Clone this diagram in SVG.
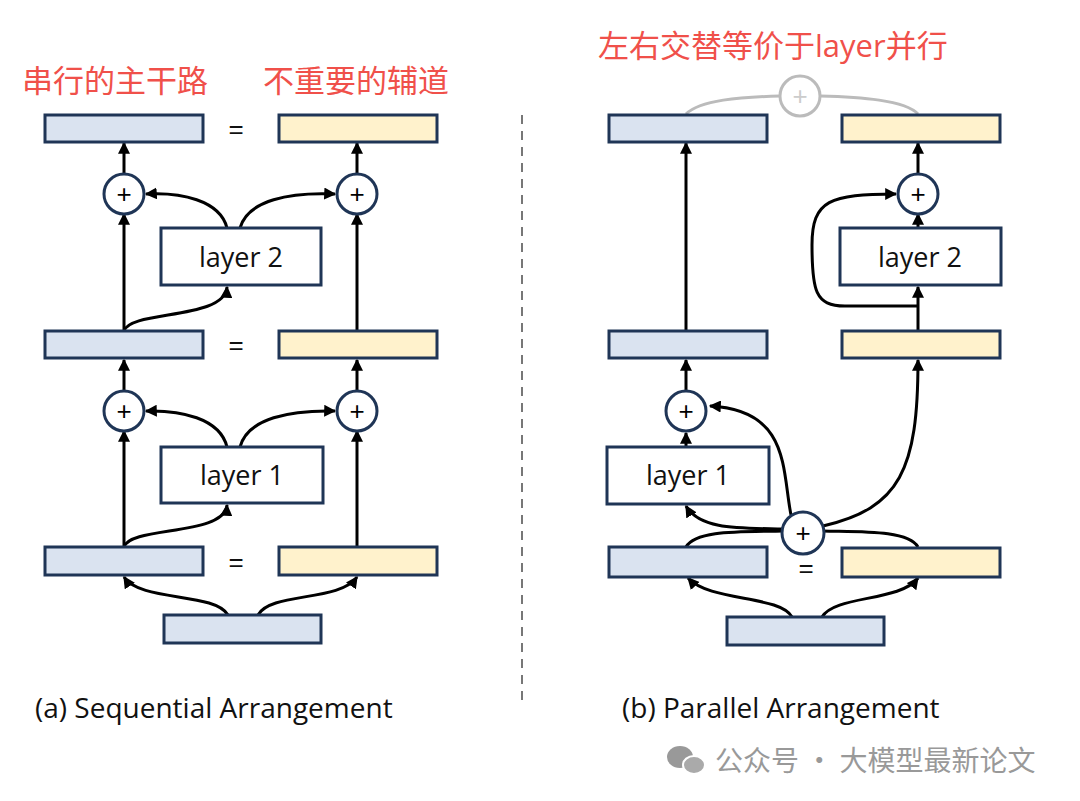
<svg xmlns="http://www.w3.org/2000/svg" width="1080" height="801" viewBox="0 0 1080 801">
<defs>
<marker id="ah" viewBox="0 0 10 10" refX="9" refY="5" markerWidth="4" markerHeight="4" orient="auto"><path d="M0,0L10,5L0,10z" fill="#000"/></marker>
<style>
.b{fill:#dae3f0;stroke:#1f3556;stroke-width:3}
.y{fill:#fff2cc;stroke:#1f3556;stroke-width:3}
.l{fill:#fff;stroke:#1f3556;stroke-width:3}
.p{fill:#fff;stroke:#1f3556;stroke-width:3}
.c{fill:none;stroke:#000;stroke-width:3}
.a{fill:none;stroke:#000;stroke-width:3;marker-end:url(#ah)}
.t{font-family:"Open Sans","Liberation Sans",sans-serif;fill:#111}
.r{font-family:"Noto Sans CJK SC",sans-serif;fill:#f0504a;font-size:31px}
</style>
</defs>
<rect width="1080" height="801" fill="#fff"/>
<text class="r" x="22" y="92">串行的主干路</text>
<text class="r" x="263" y="92">不重要的辅道</text>
<text class="r" x="598" y="57"><tspan>左右交替等价于</tspan><tspan font-family="Open Sans,sans-serif">layer</tspan><tspan>并行</tspan></text>
<line x1="522" y1="115" x2="522" y2="705" stroke="#777" stroke-width="2" stroke-dasharray="9,7"/>
<g id="connectors">
<path class="a" d="M124,331V214"/><path class="a" d="M124,174V143"/>
<path class="a" d="M357,331V214"/><path class="a" d="M357,174V143"/>
<path class="a" d="M124,331C130,310 225,320 227,287"/>
<path class="a" d="M227,228C220,200 180,192 146,194"/>
<path class="a" d="M240,228C248,200 290,192 335,194"/>
<path class="a" d="M124,547V431"/><path class="a" d="M124,391V360"/>
<path class="a" d="M357,547V431"/><path class="a" d="M357,391V360"/>
<path class="a" d="M124,547C130,526 225,536 227,505"/>
<path class="a" d="M227,447C220,418 180,410 146,411"/>
<path class="a" d="M240,447C248,418 290,410 335,411"/>
<path class="a" d="M228,615C215,592 140,602 124,577"/>
<path class="a" d="M258,615C270,592 340,602 357,577"/>
<path class="a" d="M686,331V143"/>
<path class="a" d="M918,331V287"/><path class="a" d="M918,228V214"/><path class="a" d="M918,174V143"/>
<path class="a" d="M918,306H845C815,306 812,290 812,245C812,200 830,194 896,194"/>
<path class="a" d="M686,447V433"/><path class="a" d="M686,391V360"/>
<path class="a" d="M790,645" /><path class="a" d="M792,617C780,595 710,602 688,578"/>
<path class="a" d="M822,617C835,595 900,602 918,578"/>
<path class="c" d="M686,547C696,530 740,532 783,531"/>
<path class="c" d="M918,547C908,530 860,532 823,531"/>
<path class="a" d="M783,529C740,528 700,530 686,506"/>
<path class="a" d="M791,515C782,470 790,410 710,406"/>
<path class="a" d="M823,526C900,508 918,470 918,360"/>
<path d="M686,114C700,100 740,97 780,96M820,96C860,97 905,100 918,114" fill="none" stroke="#bbb" stroke-width="3"/>
</g>
<g id="n-bars-a">
<rect class="b" x="45" y="115" width="158" height="27"/><rect class="y" x="279" y="115" width="158" height="27"/>
<rect class="b" x="45" y="331" width="158" height="27"/><rect class="y" x="279" y="331" width="158" height="27"/>
<rect class="b" x="45" y="547" width="158" height="28"/><rect class="y" x="279" y="547" width="158" height="28"/>
<rect class="b" x="164" y="615" width="157" height="28"/>
</g>
<g id="n-bars-b">
<rect class="b" x="609" y="115" width="158" height="27"/><rect class="y" x="842" y="115" width="158" height="27"/>
<rect class="b" x="609" y="331" width="158" height="27"/><rect class="y" x="842" y="331" width="158" height="27"/>
<rect class="b" x="609" y="547" width="158" height="30"/><rect class="y" x="842" y="548" width="158" height="29"/>
<rect class="b" x="727" y="617" width="157" height="28"/>
</g>
<g id="n-layers">
<rect class="l" x="161" y="228" width="160" height="57"/><text class="t" x="241" y="267" font-size="27" text-anchor="middle">layer 2</text>
<rect class="l" x="161" y="447" width="162" height="56"/><text class="t" x="242" y="485" font-size="27" text-anchor="middle">layer 1</text>
<rect class="l" x="840" y="228" width="161" height="57"/><text class="t" x="920" y="267" font-size="27" text-anchor="middle">layer 2</text>
<rect class="l" x="607" y="447" width="162" height="57"/><text class="t" x="688" y="485" font-size="27" text-anchor="middle">layer 1</text>
</g>
<g id="n-plus" font-family="Liberation Sans,sans-serif" font-size="26" text-anchor="middle">
<circle class="p" cx="124" cy="194" r="20"/><text x="124" y="203">+</text>
<circle class="p" cx="357" cy="194" r="20"/><text x="357" y="203">+</text>
<circle class="p" cx="124" cy="411" r="20"/><text x="124" y="420">+</text>
<circle class="p" cx="357" cy="411" r="20"/><text x="357" y="420">+</text>
<circle class="p" cx="918" cy="194" r="20"/><text x="918" y="203">+</text>
<circle class="p" cx="686" cy="411" r="20"/><text x="686" y="420">+</text>
<circle class="p" cx="803" cy="533" r="21"/><text x="803" y="542">+</text>
<circle cx="800" cy="96" r="20" fill="#fff" stroke="#bbb" stroke-width="3"/><text x="800" y="105" fill="#ccc">+</text>
</g>
<g font-family="Liberation Sans,sans-serif" font-size="26" text-anchor="middle" fill="#111">
<text x="236" y="138">=</text><text x="236" y="354">=</text><text x="236" y="571">=</text><text x="806" y="577">=</text>
</g>
<text class="t" x="35" y="718" font-size="28">(a) Sequential Arrangement</text>
<text class="t" x="622" y="718" font-size="28">(b) Parallel Arrangement</text>
<g id="watermark" fill="#999">
<ellipse cx="680" cy="757" rx="13" ry="11"/><ellipse cx="694" cy="765" rx="11" ry="9" fill="#aaa" stroke="#fff" stroke-width="2"/>
<text x="715" y="771" font-family="Noto Sans CJK SC,sans-serif" font-size="28">公众号 · 大模型最新论文</text>
</g>
</svg>
